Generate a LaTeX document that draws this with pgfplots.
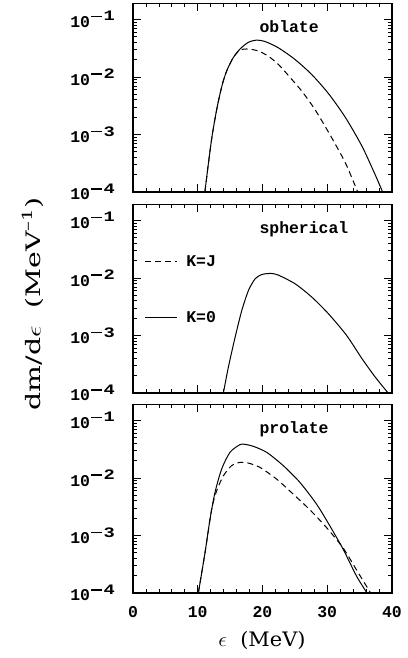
\documentclass[border=0pt]{standalone}
\usepackage{fontspec}
\setmainfont{Liberation Mono}
\newfontfamily\seriflabel{DejaVu Serif}
\usepackage{pgfplots}
\pgfplotsset{compat=1.18}

\newcommand{\monofont}{\fontsize{16.5}{16.5}\selectfont\bfseries}
% decade labels: 10 with a raised exponent drawn with a long minus
\newcommand{\decade}[1]{{\monofont 10\raisebox{6.5bp}{\kern1bp\rule[3.6bp]{11bp}{1.5bp}\kern1.5bp\scalebox{1.3}[1]{\fontsize{14.5}{14.5}\selectfont\bfseries #1}}}}

\tikzset{
  specline/.style={black, line width=1bp, smooth, tension=0.45},
  kjline/.style={specline, dash pattern=on 6bp off 4bp},
}

\begin{document}
\begin{tikzpicture}
\useasboundingbox (0,0) rectangle (408bp,658bp);

% ---------------- oblate ----------------
\begin{axis}[at={(133bp,466bp)}, anchor=south west,
    scale only axis, width=259bp, height=188.5bp,
    xmin=0, xmax=40, ymode=log, ymin=1e-4, ymax=0.19,
    xtick={0,10,20,30,40}, minor x tick num=4,
    ytick={1e-4,1e-3,1e-2,1e-1},
    minor ytick={2e-4,3e-4,4e-4,5e-4,6e-4,7e-4,8e-4,9e-4,
                 2e-3,3e-3,4e-3,5e-3,6e-3,7e-3,8e-3,9e-3,
                 2e-2,3e-2,4e-2,5e-2,6e-2,7e-2,8e-2,9e-2},
    yticklabels={\decade{4},\decade{3},\decade{2},\decade{1}},
    yticklabel style={anchor=east, inner sep=0pt, xshift=-18bp},
    tick align=inside,
    major tick length=8bp, minor tick length=4bp,
    axis line style={line width=1.3bp},
    tick style={black, line width=0.8bp},
    xticklabels={}]
\addplot[specline, mark=none] coordinates {
 (11.1,1.0e-4) (11.7,3.5e-4) (12.25,1.0e-3) (13.0,3.0e-3) (13.8,7.5e-3)
 (14.5,1.3e-2) (15.4,2.1e-2) (16.5,3.05e-2) (17.8,4.0e-2) (19.1,4.38e-2)
 (20.4,4.14e-2) (22.47,3.21e-2) (25.04,2.01e-2) (27.62,1.10e-2)
 (30.2,5.13e-3) (32.78,2.0e-3) (35.35,6.3e-4) (37.4,2.0e-4) (38.55,1.0e-4)};
\addplot[kjline, mark=none] coordinates {
 (11.1,1.0e-4) (11.7,3.5e-4) (12.25,1.0e-3) (13.0,3.0e-3) (13.8,7.5e-3)
 (14.5,1.3e-2) (15.4,2.1e-2) (16.3,2.82e-2) (17.05,3.05e-2) (18.08,3.05e-2)
 (19.4,2.82e-2) (20.9,2.30e-2) (22.47,1.65e-2) (24.2,1.0e-2) (26.07,5.68e-3)
 (28.1,2.72e-3) (30.4,1.0e-3) (32.8,3.21e-4) (34.7,1.0e-4)};
\node[anchor=base west, font=\monofont] at (axis cs:19,0.059) {oblate};
\end{axis}

% ---------------- spherical ----------------
\begin{axis}[at={(133bp,265bp)}, anchor=south west,
    scale only axis, width=259bp, height=188.5bp,
    xmin=0, xmax=40, ymode=log, ymin=1e-4, ymax=0.19,
    xtick={0,10,20,30,40}, minor x tick num=4,
    ytick={1e-4,1e-3,1e-2,1e-1},
    minor ytick={2e-4,3e-4,4e-4,5e-4,6e-4,7e-4,8e-4,9e-4,
                 2e-3,3e-3,4e-3,5e-3,6e-3,7e-3,8e-3,9e-3,
                 2e-2,3e-2,4e-2,5e-2,6e-2,7e-2,8e-2,9e-2},
    yticklabels={\decade{4},\decade{3},\decade{2},\decade{1}},
    yticklabel style={anchor=east, inner sep=0pt, xshift=-18bp},
    tick align=inside,
    major tick length=8bp, minor tick length=4bp,
    axis line style={line width=1.3bp},
    tick style={black, line width=0.8bp},
    xticklabels={}]
\addplot[specline, mark=none] coordinates {
 (13.96,1.0e-4) (14.73,2.82e-4) (15.77,9.33e-4) (16.8,2.72e-3) (17.83,6.07e-3)
 (18.86,9.68e-3) (19.89,1.15e-2) (21.33,1.2e-2) (22.47,1.12e-2) (25.04,7.93e-3)
 (27.62,4.65e-3) (30.2,2.38e-3) (33.0,1.0e-3) (35.35,3.98e-4) (37.4,1.9e-4)
 (39.4,1.0e-4)};
% line key
\addplot[kjline, mark=none] coordinates {(1.85,0.0194) (6.8,0.0194)};
\addplot[specline, mark=none] coordinates {(1.85,0.00206) (6.8,0.00206)};
\node[anchor=west, font=\monofont] at (axis cs:7.7,0.0194) {K=J};
\node[anchor=west, font=\monofont] at (axis cs:7.7,0.00206) {K=0};
\node[anchor=base west, font=\monofont] at (axis cs:19,0.059) {spherical};
\end{axis}

% ---------------- prolate ----------------
\begin{axis}[at={(133bp,65bp)}, anchor=south west,
    scale only axis, width=259bp, height=188.5bp,
    xmin=0, xmax=40, ymode=log, ymin=1e-4, ymax=0.19,
    xtick={0,10,20,30,40}, minor x tick num=4,
    ytick={1e-4,1e-3,1e-2,1e-1},
    minor ytick={2e-4,3e-4,4e-4,5e-4,6e-4,7e-4,8e-4,9e-4,
                 2e-3,3e-3,4e-3,5e-3,6e-3,7e-3,8e-3,9e-3,
                 2e-2,3e-2,4e-2,5e-2,6e-2,7e-2,8e-2,9e-2},
    yticklabels={\decade{4},\decade{3},\decade{2},\decade{1}},
    yticklabel style={anchor=east, inner sep=0pt, xshift=-18bp},
    tick align=inside,
    major tick length=8bp, minor tick length=4bp,
    axis line style={line width=1.3bp},
    tick style={black, line width=0.8bp},
    xticklabels={{\monofont 0},{\monofont 10},{\monofont 20},{\monofont 30},{\monofont 40}},
    xticklabel style={anchor=north, inner sep=0pt, yshift=-13bp}]
\addplot[specline, mark=none] coordinates {
 (10.09,1.0e-4) (11.12,5.01e-4) (11.89,1.91e-3) (12.66,5.60e-3) (13.69,1.43e-2)
 (14.98,2.80e-2) (16.52,3.81e-2) (17.29,3.85e-2) (18.58,3.56e-2) (20.64,2.80e-2)
 (23.21,1.64e-2) (25.78,8.38e-3) (28.36,3.50e-3) (30.42,1.46e-3) (32.47,5.73e-4)
 (34.53,1.96e-4) (36.15,1.0e-4)};
\addplot[kjline, mark=none] coordinates {
 (10.09,1.0e-4) (11.12,5.01e-4) (12.15,2.86e-3) (12.92,5.98e-3) (13.95,1.09e-2)
 (15.23,1.64e-2) (16.52,1.87e-2) (17.81,1.82e-2) (19.61,1.53e-2) (22.18,9.57e-3)
 (24.75,5.24e-3) (27.33,2.79e-3) (29.9,1.37e-3) (32.47,6.03e-4) (34.53,2.51e-4)
 (36.7,1.0e-4)};
\node[anchor=base west, font=\monofont] at (axis cs:19,0.059) {prolate};
\end{axis}

% shared axis titles
\node[rotate=90, font=\fontsize{20}{20}\selectfont\seriflabel] at (33bp,354bp)
  {\scalebox{1.42}[1]{dm/d$\epsilon$\ \ (MeV\raisebox{8bp}{\fontsize{14}{14}\selectfont –1})}};
\node[font=\fontsize{20}{20}\selectfont\seriflabel] at (262bp,18bp)
  {\scalebox{1.05}[1]{$\epsilon$\ \ (MeV)}};
\end{tikzpicture}
\end{document}
